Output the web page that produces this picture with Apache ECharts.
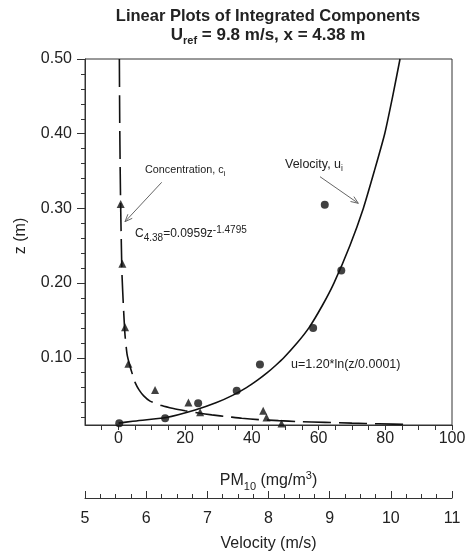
<!DOCTYPE html>
<html><head><meta charset="utf-8">
<script src="https://cdn.jsdelivr.net/npm/echarts@6/dist/echarts.min.js"></script>
<style>html,body{margin:0;padding:0;background:#fff}#c{width:466px;height:553px}</style>
</head><body><div id="c"></div>
<script>
// ---- data ----
// measured concentration (triangles): PM10 (mg/m3) vs z (m)
const concPM = [0.7, 1.2, 2.0, 3.0, 11.0, 21.0, 24.5, 43.4, 44.4, 48.9];
const concZ  = [0.306, 0.226, 0.141, 0.092, 0.057, 0.040, 0.027, 0.029, 0.020, 0.012];
// measured velocity (circles): u (m/s) vs z (m)
const velU = [5.56, 6.31, 6.85, 7.48, 7.86, 8.73, 9.19, 8.92];
const velZ = [0.0125, 0.019, 0.039, 0.056, 0.091, 0.140, 0.217, 0.305];
// fitted concentration curve (dashed)
const concFitPM = [0.3,0.4,0.55,0.7,0.9,1.1,1.5,2.0,2.6,3.4,4.2,5.0,6.2,7.6,9.5,13,16.5,20,24,28,33,37,42,48,54,62,70,78,87];
const concFitZ  = [0.50,0.42,0.35,0.30,0.25,0.21,0.17,0.13,0.105,0.09,0.078,0.067,0.057,0.049,0.042,0.036,0.032,0.029,0.026,0.0235,0.021,0.019,0.0172,0.0158,0.0146,0.0135,0.0125,0.0116,0.0106];
// fitted velocity curve (solid)
const velFitZ = [0.0125,0.015,0.02,0.03,0.04,0.05,0.06,0.07,0.08,0.09,0.10,0.12,0.14,0.17,0.20,0.25,0.30,0.35,0.40,0.45,0.50];
const velFitU = [5.55,5.78,6.33,6.80,7.15,7.42,7.64,7.82,7.98,8.12,8.25,8.47,8.66,8.88,9.07,9.33,9.55,9.73,9.90,10.03,10.15];
// axis ticks / labels
const pmTicks = [-5,0,5,10,15,20,25,30,35,40,45,50,55,60,65,70,75,80,85,90,95,100];
const pmLabels = [0,20,40,60,80,100];
const zMinorTicks = [0.02,0.04,0.06,0.08,0.10,0.12,0.14,0.16,0.18,0.20,0.22,0.24,0.26,0.28,0.30,0.32,0.34,0.36,0.38,0.40,0.42,0.44,0.46,0.48,0.50];
const zLabels = [0.10,0.20,0.30,0.40,0.50];

const FF = 'Liberation Sans, Arial, Helvetica, sans-serif';
const TXT = '#222', AX = '#333';
const zip = (a,b) => a.map((v,i)=>[v,b[i]]);

function arrow(x1,y1,x2,y2){
  const a=Math.atan2(y2-y1,x2-x1), L=8, w=0.38;
  return [
    {type:'line',z:100,shape:{x1,y1,x2,y2},style:{stroke:'#666',lineWidth:1}},
    {type:'polyline',z:100,shape:{points:[[x2-L*Math.cos(a-w),y2-L*Math.sin(a-w)],[x2,y2],[x2-L*Math.cos(a+w),y2-L*Math.sin(a+w)]]},style:{stroke:'#666',lineWidth:1,fill:null}}
  ];
}
function txt(x,y,text,rich){
  return {type:'text',z:100,style:{x,y,text,verticalAlign:'middle',align:'left',fill:TXT,fontFamily:FF,rich}};
}

const chart = echarts.init(document.getElementById('c'), null, {renderer:'canvas'});
chart.setOption({
  animation:false,
  backgroundColor:'#fff',
  grid:{left:85, top:59, width:367, height:366, show:true, borderColor:AX, borderWidth:1, backgroundColor:'transparent',
        containLabel:false, outerBoundsMode:'none'},
  xAxis:[
    {type:'value', min:-10, max:100, position:'bottom',
     axisLine:{onZero:false, lineStyle:{color:AX,width:1}},
     axisTick:{customValues:pmTicks, length:5, lineStyle:{color:AX}},
     axisLabel:{customValues:pmLabels, fontSize:16, color:TXT, fontFamily:FF, margin:6},
     splitLine:{show:false},
     name:'{a|PM}{s|10}{a| (mg/m}{p|3}{a|)}', nameLocation:'middle', nameGap:45,
     nameTextStyle:{rich:{
       a:{fontSize:16,fontFamily:FF,color:TXT,lineHeight:22},
       s:{fontSize:11,fontFamily:FF,color:TXT,lineHeight:12,verticalAlign:'bottom'},
       p:{fontSize:11,fontFamily:FF,color:TXT,lineHeight:14,verticalAlign:'top'}}}},
    {type:'value', min:5, max:11, interval:1, position:'bottom', offset:73,
     axisLine:{onZero:false, lineStyle:{color:AX,width:1}},
     axisTick:{inside:true, length:7, lineStyle:{color:AX}},
     minorTick:{show:true, splitNumber:4, length:4, lineStyle:{color:AX}},
     axisLabel:{fontSize:16, color:TXT, fontFamily:FF, margin:13},
     splitLine:{show:false}, minorSplitLine:{show:false},
     name:'Velocity (m/s)', nameLocation:'middle', nameGap:38,
     nameTextStyle:{fontSize:16, color:TXT, fontFamily:FF}}
  ],
  yAxis:[
    {type:'value', min:0.01, max:0.5, position:'left',
     axisLine:{onZero:false, lineStyle:{color:AX,width:1}},
     axisTick:{customValues:zMinorTicks, length:4, lineStyle:{color:AX}},
     axisLabel:{show:false}, splitLine:{show:false},
     name:'z (m)', nameLocation:'middle', nameRotate:90, nameGap:56,
     nameTextStyle:{fontSize:16, color:TXT, fontFamily:FF, padding:[0,0,0,12]}},
    {type:'value', min:0.01, max:0.5, position:'left',
     axisLine:{show:false, onZero:false},
     axisTick:{customValues:zLabels, length:8, lineStyle:{color:AX}},
     axisLabel:{customValues:zLabels, fontSize:16, color:TXT, fontFamily:FF, margin:13, formatter:v=>v.toFixed(2)},
     splitLine:{show:false}}
  ],
  series:[
    {type:'line', xAxisIndex:0, yAxisIndex:0, data:zip(concFitPM,concFitZ), showSymbol:false, smooth:0.2,
     lineStyle:{color:'#111', width:1.6, type:[28,8]}, silent:true},
    {type:'line', xAxisIndex:1, yAxisIndex:0, data:zip(velFitU,velFitZ), showSymbol:false, smooth:0.2,
     lineStyle:{color:'#111', width:1.6}, silent:true},
    {type:'scatter', xAxisIndex:0, yAxisIndex:0, data:zip(concPM,concZ), symbol:'triangle', symbolSize:8,
     itemStyle:{color:'#111'}},
    {type:'scatter', xAxisIndex:1, yAxisIndex:0, data:zip(velU,velZ), symbol:'circle', symbolSize:8,
     itemStyle:{color:'#111'}}
  ],
  graphic:[
    {type:'text', z:100, style:{x:268, y:16, text:'Linear Plots of Integrated Components', align:'center', verticalAlign:'middle',
      fontSize:16.5, fontWeight:'bold', fontFamily:FF, fill:TXT}},
    {type:'text', z:100, style:{x:268, y:35, text:'{a|U}{s|ref}{a| = 9.8 m/s, x = 4.38 m}', align:'center', verticalAlign:'middle', fill:TXT,
      rich:{a:{fontSize:17,fontWeight:'bold',fontFamily:FF,fill:TXT,lineHeight:22},
            s:{fontSize:11,fontWeight:'bold',fontFamily:FF,fill:TXT,lineHeight:12,verticalAlign:'bottom'}}}},
    txt(145,170,'{a|Concentration, c}{s|i}',{a:{fontSize:10.8,fontFamily:FF,fill:TXT,lineHeight:16},s:{fontSize:8,fontFamily:FF,fill:TXT,lineHeight:9,verticalAlign:'bottom'}}),
    txt(135,234,'{a|C}{s|4.38}{a|=0.0959z}{p|-1.4795}',{a:{fontSize:12,fontFamily:FF,fill:TXT,lineHeight:18},s:{fontSize:10,fontFamily:FF,fill:TXT,lineHeight:10,verticalAlign:'bottom'},p:{fontSize:10,fontFamily:FF,fill:TXT,lineHeight:13,verticalAlign:'top'}}),
    txt(285,165,'{a|Velocity, u}{s|i}',{a:{fontSize:12.5,fontFamily:FF,fill:TXT,lineHeight:16},s:{fontSize:8.5,fontFamily:FF,fill:TXT,lineHeight:9,verticalAlign:'bottom'}}),
    txt(291,365,'{a|u=1.20*ln(z/0.0001)}',{a:{fontSize:12.5,fontFamily:FF,fill:TXT,lineHeight:16}}),
    ...arrow(161.7,182.3,125,221.7),
    ...arrow(320,176.7,358.3,203.3)
  ]
});
</script></body></html>
